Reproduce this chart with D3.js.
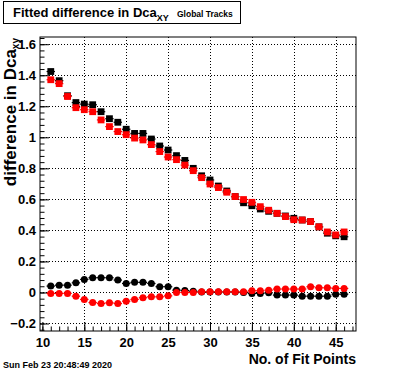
<!DOCTYPE html>
<html>
<head>
<meta charset="utf-8">
<script src="https://cdn.jsdelivr.net/npm/d3@7"></script>
<style>
  html, body { margin: 0; padding: 0; background: #fff; }
  svg { display: block; }
  text { font-family: "Liberation Sans", Arial, Helvetica, sans-serif; font-weight: bold; fill: #000; }
</style>
</head>
<body>
<svg id="chart" width="396" height="372"></svg>
<script>
// ---- data ----
const nFitPoints = [11,12,13,14,15,16,17,18,19,20,21,22,23,24,25,26,27,28,29,30,31,32,33,34,35,36,37,38,39,40,41,42,43,44,45,46];
const blackSquares = [1.424,1.365,1.268,1.224,1.214,1.210,1.165,1.120,1.097,1.052,1.025,1.025,0.989,0.944,0.918,0.882,0.851,0.800,0.752,0.725,0.686,0.654,0.618,0.578,0.559,0.538,0.523,0.510,0.493,0.478,0.467,0.457,0.423,0.382,0.365,0.359];
const redSquares   = [1.371,1.346,1.263,1.191,1.178,1.165,1.112,1.069,1.037,1.017,0.995,0.983,0.953,0.908,0.873,0.856,0.821,0.785,0.740,0.699,0.676,0.646,0.618,0.599,0.581,0.553,0.530,0.510,0.489,0.469,0.467,0.457,0.423,0.390,0.371,0.390];
const blackCircles = [0.041,0.047,0.047,0.062,0.084,0.095,0.095,0.095,0.080,0.058,0.065,0.065,0.058,0.037,0.037,0.015,0.012,0.008,0.003,0.003,0.003,0.003,0.003,0.000,-0.006,-0.006,-0.002,-0.017,-0.017,-0.017,-0.024,-0.024,-0.024,-0.024,-0.011,-0.011];
const redCircles   = [-0.006,-0.006,-0.006,-0.024,-0.045,-0.065,-0.071,-0.067,-0.071,-0.056,-0.045,-0.034,-0.028,-0.028,-0.022,0.000,0.000,0.000,0.004,0.004,0.004,0.004,0.004,0.004,0.011,0.011,0.015,0.022,0.022,0.022,0.022,0.037,0.030,0.030,0.026,0.026];
const xTickValues = [10,15,20,25,30,35,40,45];
const yTickValues = [-0.2,0,0.2,0.4,0.6,0.8,1,1.2,1.4,1.6];
const yTickLabels = ["\u22120.2","0","0.2","0.4","0.6","0.8","1","1.2","1.4","1.6"];
const titleMain = "Fitted difference in Dca";
const titleSub = "XY";
const titleRest = "Global Tracks";
const yTitleMain = "difference in Dca";
const yTitleSub = "xy";
const xTitle = "No. of Fit Points";
const dateText = "Sun Feb 23 20:48:49 2020";

// ---- layout ----
const svg = d3.select("#chart");
const L = 40, R = 356, T = 37, B = 331;
const x = d3.scaleLinear().domain([9.714, 47.42]).range([L, R]);
const y = d3.scaleLinear().domain([-0.2484, 1.6465]).range([B, T]);

svg.append("rect").attr("x",0).attr("y",0).attr("width",396).attr("height",372).attr("fill","#fff");

// grid
const grid = svg.append("g").attr("stroke","#000").attr("stroke-width",1).attr("stroke-dasharray","1,2");
grid.selectAll("line.gx").data(xTickValues.filter(v => v > 10)).join("line")
  .attr("x1", d => Math.round(x(d)) + 0.5).attr("x2", d => Math.round(x(d)) + 0.5)
  .attr("y1", T).attr("y2", B);
grid.selectAll("line.gy").data(yTickValues).join("line")
  .attr("y1", d => Math.round(y(d)) + 0.5).attr("y2", d => Math.round(y(d)) + 0.5)
  .attr("x1", L).attr("x2", R);

// minor ticks
const xMinor = d3.range(10, 48, 1).filter(v => x(v) <= R);
const yMinor = d3.range(-0.24, 1.645, 0.04);

const xAxisMinor = d3.axisBottom(x).tickValues(xMinor).tickSize(-4.5).tickSizeOuter(0).tickFormat("");
const yAxisMinor = d3.axisLeft(y).tickValues(yMinor).tickSize(-4.5).tickSizeOuter(0).tickFormat("");
svg.append("g").attr("transform",`translate(0,${B})`).call(xAxisMinor).call(g => g.select(".domain").remove());
svg.append("g").attr("transform",`translate(${L},0)`).call(yAxisMinor).call(g => g.select(".domain").remove());

const xAxis = d3.axisBottom(x).tickValues(xTickValues).tickSize(-9).tickSizeOuter(0).tickPadding(7).tickFormat(d3.format("d"));
const yAxis = d3.axisLeft(y).tickValues(yTickValues).tickSize(-9).tickSizeOuter(0).tickPadding(4)
  .tickFormat((d,i) => yTickLabels[i]);
const gx = svg.append("g").attr("transform",`translate(0,${B})`).call(xAxis);
const gy = svg.append("g").attr("transform",`translate(${L},0)`).call(yAxis);
[gx, gy].forEach(g => {
  g.select(".domain").remove();
  g.selectAll("text").style("font-size","13px").style("font-weight","bold")
    .style("font-family","'Liberation Sans', Arial, sans-serif").attr("fill","#000");
  g.selectAll("line").attr("stroke","#000");
});

// frame
svg.append("rect").attr("x",L).attr("y",T).attr("width",R-L).attr("height",B-T)
  .attr("fill","none").attr("stroke","#000").attr("stroke-width",1);

// series
const series = [
  {vals: blackSquares, color: "#000", shape: "square"},
  {vals: blackCircles, color: "#000", shape: "circle"},
  {vals: redSquares, color: "#ff0000", shape: "square"},
  {vals: redCircles, color: "#ff0000", shape: "circle"}
];
series.forEach(s => {
  const data = nFitPoints.map((n,i) => ({n, v: s.vals[i]}));
  const g = svg.append("g");
  g.selectAll("line").data(data).join("line")
    .attr("x1", d => x(d.n - 0.5)).attr("x2", d => x(d.n + 0.5))
    .attr("y1", d => y(d.v)).attr("y2", d => y(d.v))
    .attr("stroke", s.color).attr("stroke-width", 1.2);
  if (s.shape === "square") {
    g.selectAll("rect").data(data).join("rect")
      .attr("x", d => x(d.n) - 3.4).attr("y", d => y(d.v) - 3.4)
      .attr("width", 6.8).attr("height", 6.8).attr("fill", s.color);
  } else {
    g.selectAll("circle").data(data).join("circle")
      .attr("cx", d => x(d.n)).attr("cy", d => y(d.v)).attr("r", 3.5).attr("fill", s.color);
  }
});

// title box (sized to its text)
const titleBox = svg.append("rect").attr("x",3.5).attr("y",1.5).attr("height",22)
  .attr("fill","#fff").attr("stroke","#000").attr("stroke-width",1);
const tt = svg.append("text").attr("x",13).attr("y",17).style("font-size","13px");
tt.append("tspan").text(titleMain);
tt.append("tspan").attr("dy",4).style("font-size","9px").text(titleSub);
tt.append("tspan").attr("x",177).attr("dy",-4).style("font-size","8.5px").text(titleRest);
const tb = tt.node().getBBox();
titleBox.attr("width", Math.round(tb.x + tb.width + 7) - 3);

// y title
const yt = svg.append("text").attr("transform","translate(16,38) rotate(-90)").attr("text-anchor","end").style("font-size","17px");
yt.append("tspan").text(yTitleMain);
yt.append("tspan").attr("dy",3).style("font-size","10px").text(yTitleSub);

// x title
svg.append("text").attr("x",356).attr("y",364).attr("text-anchor","end").style("font-size","14px").text(xTitle);

// date
svg.append("text").attr("x",3).attr("y",368).style("font-size","9px").text(dateText);
</script>
</body>
</html>
